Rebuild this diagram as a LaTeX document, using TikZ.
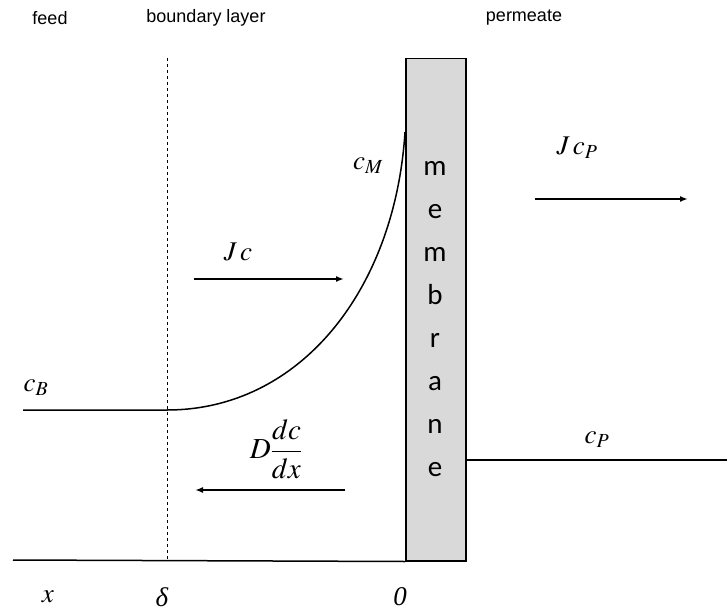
\documentclass[tikz,border=0pt]{standalone}
\usepackage{mathptmx}
\usepackage[no-math]{fontspec}
\setmainfont{Liberation Sans}
\newfontfamily\tmsfont{Liberation Serif}
\newfontfamily\carlitofont{Carlito}
\usetikzlibrary{arrows.meta}
\tikzset{
  lbl/.style={font=\fontsize{18}{21}\selectfont},
  mth/.style={font=\fontsize{27}{32}\selectfont},
  line/.style={line width=1.5pt},
  flux/.style={line width=2pt,-{Latex[length=8pt,width=6pt]}},
}
\begin{document}
\begin{tikzpicture}[x=1pt,y=-1pt]
\useasboundingbox (0,0) rectangle (727,612);
% membrane
\node[draw,line width=1.5pt,fill={rgb,255:red,217;green,217;blue,217},minimum width=60pt,minimum height=502pt,inner sep=0,anchor=north west] (mem) at (405,58) {};
\node[font=\carlitofont\fontsize{29}{43}\selectfont,align=center] (memtxt) at (435,319) {m\\e\\m\\b\\r\\a\\n\\e};
% axes/lines
\coordinate (base0) at (13,560);
\draw[line] (base0) -- (mem.south west);
\coordinate (dtop) at (167,58);
\coordinate (dbot) at (167,560);
\draw[dashed,line width=0.8pt] (dtop) -- (dbot);
\coordinate (cb0) at (23,410);
\coordinate (cb1) at (167,410);
\coordinate (cm) at (405,132);
\draw[line] (cb0) -- (cb1) .. controls (300,410) and (395,290) .. (cm);
\coordinate (cp0) at (465,460);
\coordinate (cp1) at (727,460);
\draw[line] (cp0) -- (cp1);
% flux arrows
\coordinate (a1s) at (194,279); \coordinate (a1e) at (344,279);
\draw[flux] (a1s) -- (a1e);
\coordinate (a2s) at (535,199); \coordinate (a2e) at (688,199);
\draw[flux] (a2s) -- (a2e);
\coordinate (a3s) at (345,490); \coordinate (a3e) at (195,490);
\draw[flux] (a3s) -- (a3e);
% labels
\node[lbl] (feed) at (50,18) {feed};
\node[lbl] (bl) at (206,18) {boundary layer};
\node[lbl] (perm) at (524,18) {permeate};
\node[mth] (lcm) at (368,166) {$c_M$};
\node[mth] (lcb) at (36,388) {$c_B$};
\node[mth] (lcp) at (597,440) {$c_P$};
\node[mth] (ljc) at (238,252) {$J\,c$};
\node[mth] (ljcp) at (577,148) {$J\,c_P$};
\node[mth,font=\fontsize{29}{34}\selectfont] (ldd) at (276,449) {$\displaystyle D\frac{dc}{dx}$};
\node[mth] (lx) at (48,597) {$x$};
\node[mth,font=\tmsfont\itshape\fontsize{27}{32}\selectfont] (ld) at (162,597) {δ};
\node[mth,font=\tmsfont\itshape\fontsize{27}{32}\selectfont] (l0) at (400,597) {0};
\end{tikzpicture}
\end{document}
